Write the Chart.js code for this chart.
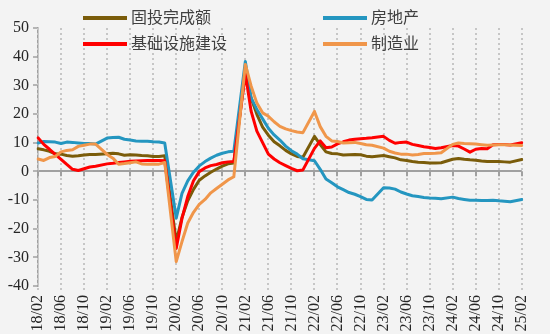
<!DOCTYPE html>
<html>
<head>
<meta charset="utf-8">
<script src="https://cdn.jsdelivr.net/npm/chart.js@4.4.1/dist/chart.umd.min.js"></script>
<style>
    body { margin: 0; background: #f3f3f3; }
    #wrap { position: relative; width: 550px; height: 334px; }
    .lg { position: absolute; font-family: "Noto Sans CJK SC", sans-serif; font-size: 16px; color: #404040; line-height: 20px; }
    .lg span { display: inline-block; width: 44px; height: 4px; vertical-align: middle; margin-right: 4px; position: relative; top: -1px; }
</style>
</head>
<body>
<div id="wrap">
    <canvas id="chart" width="550" height="334"></canvas>
    <div class="lg" style="left:83px; top:6px;"><span style="background:#7a5c0a"></span>固投完成额</div>
    <div class="lg" style="left:83px; top:32px;"><span style="background:#ff0000"></span>基础设施建设</div>
    <div class="lg" style="left:323px; top:6px;"><span style="background:#2496c0"></span>房地产</div>
    <div class="lg" style="left:323px; top:32px;"><span style="background:#f0964a"></span>制造业</div>
</div>
<script>
// months 18/02 .. 25/02 (January has no data, line skips over it)
const months = [];
for (let y = 18; y <= 25; y++) {
    for (let m = 1; m <= 12; m++) {
        if (y === 18 && m < 2) continue;
        if (y === 25 && m > 2) break;
        months.push(y + '/' + String(m).padStart(2, '0'));
    }
}

const yTicks = [50, 40, 30, 20, 10, 0, -10, -20, -30, -40];

// 固投完成额, cumulative yoy %
const fai = [
    7.9, 7.5, 7.0, 6.1, 6.0, 5.5, 5.3, 5.4, 5.7, 5.9, 5.9,
    null, 6.1, 6.3, 6.1, 5.6, 5.8, 5.7, 5.5, 5.4, 5.2, 5.2, 5.4,
    null, -24.5, -16.1, -10.3, -6.3, -3.1, -1.6, -0.3, 0.8, 1.8, 2.6, 2.9,
    null, 35.0, 25.6, 19.9, 15.4, 12.6, 10.3, 8.9, 7.3, 6.1, 5.2, 4.9,
    null, 12.2, 9.3, 6.8, 6.2, 6.1, 5.7, 5.8, 5.9, 5.8, 5.3, 5.1,
    null, 5.5, 5.1, 4.7, 4.0, 3.8, 3.4, 3.2, 3.1, 2.9, 2.9, 3.0,
    null, 4.2, 4.5, 4.2, 4.0, 3.9, 3.6, 3.4, 3.4, 3.4, 3.3, 3.2,
    null, 4.1
];

// 房地产
const realEstate = [
    9.9, 10.4, 10.3, 10.2, 9.7, 10.2, 10.1, 9.9, 9.7, 9.7, 9.5,
    null, 11.6, 11.8, 11.9, 11.2, 10.9, 10.6, 10.5, 10.5, 10.3, 10.2, 9.9,
    null, -16.3, -7.7, -3.3, -0.3, 1.9, 3.4, 4.6, 5.6, 6.3, 6.8, 7.0,
    null, 38.3, 25.6, 21.6, 18.3, 15.0, 12.7, 10.9, 8.8, 7.2, 6.0, 4.4,
    null, 3.7, 0.7, -2.7, -4.0, -5.4, -6.4, -7.4, -8.0, -8.8, -9.8, -10.0,
    null, -5.7, -5.8, -6.2, -7.2, -7.9, -8.5, -8.8, -9.1, -9.3, -9.4, -9.6,
    null, -9.0, -9.5, -9.8, -10.1, -10.1, -10.2, -10.2, -10.1, -10.3, -10.4, -10.6,
    null, -9.8
];

// 基础设施建设
const infra = [
    11.7, 9.4, 7.7, 5.9, 4.2, 2.4, 0.7, 0.3, 0.9, 1.5, 1.8,
    null, 2.6, 2.8, 3.1, 3.3, 3.5, 3.6, 3.7, 3.8, 3.8, 3.8, 3.7,
    null, -26.9, -16.4, -8.8, -3.3, -0.1, 1.2, 2.0, 2.4, 3.0, 3.3, 3.4,
    null, 34.0, 21.0, 14.0, 10.0, 6.0, 4.3, 3.0, 2.0, 1.0, 0.2, 0.5,
    null, 8.0, 10.6, 8.2, 8.5, 9.6, 10.3, 10.9, 11.2, 11.4, 11.5, 11.7,
    null, 12.2, 10.8, 9.8, 10.1, 10.2, 9.4, 9.0, 8.6, 8.3, 8.0, 8.2,
    null, 9.0, 8.8, 7.8, 6.7, 7.7, 8.0, 7.9, 9.3, 9.4, 9.4, 9.2,
    null, 10.0
];

// 制造业
const manufacturing = [
    4.3, 3.8, 4.8, 5.2, 6.8, 7.3, 7.5, 8.7, 9.1, 9.5, 9.5,
    null, 5.9, 4.6, 2.5, 2.7, 3.0, 3.3, 2.6, 2.5, 2.6, 2.5, 3.1,
    null, -31.5, -24.5, -18.0, -14.3, -11.5, -9.8, -7.5, -6.0, -4.5, -3.0, -1.9,
    null, 37.3, 29.8, 23.8, 20.4, 19.2, 17.3, 15.7, 14.8, 14.2, 13.7, 13.5,
    null, 20.9, 15.6, 12.2, 10.6, 10.4, 9.9, 10.0, 10.1, 9.7, 9.3, 9.1,
    null, 8.1, 7.0, 6.4, 6.0, 6.0, 5.7, 5.9, 6.2, 6.2, 6.3, 6.5,
    null, 9.4, 9.9, 9.7, 9.6, 9.5, 9.3, 9.1, 9.2, 9.3, 9.3, 9.2,
    null, 9.0
];

function line(label, data, color, order) {
    return {
        label: label,
        data: data,
        borderColor: color,
        backgroundColor: color,
        borderWidth: 3,
        pointRadius: 0,
        tension: 0,
        spanGaps: true,
        borderJoinStyle: 'round',
        borderCapStyle: 'round',
        order: order
    };
}

// dotted vertical lines every 4 months + small marks under the zero line
const dottedGrid = {
    id: 'dottedGrid',
    beforeDatasetsDraw: function(chart) {
        const ctx = chart.ctx;
        const area = chart.chartArea;
        const x = chart.scales.x;
        const y0 = chart.scales.y.getPixelForValue(0);
        ctx.save();
        for (let i = 0; i < months.length; i += 4) {
            const px = Math.round(x.getPixelForValue(i));
            ctx.lineWidth = 2;
            ctx.strokeStyle = '#c6c6c6';
            ctx.setLineDash([2, 3]);
            ctx.beginPath();
            ctx.moveTo(px, area.top);
            ctx.lineTo(px, area.bottom + 4);
            ctx.stroke();
            ctx.strokeStyle = '#a0a0a0';
            ctx.setLineDash([]);
            ctx.beginPath();
            ctx.moveTo(px, y0);
            ctx.lineTo(px, y0 + 5);
            ctx.stroke();
        }
        ctx.restore();
    }
};

const tickFont = { family: '"Liberation Serif", serif', size: 16 };

new Chart(document.getElementById('chart').getContext('2d'), {
    type: 'line',
    data: {
        labels: months,
        datasets: [
            line('固投完成额', fai, '#7a5c0a', 3),
            line('房地产', realEstate, '#2496c0', 2),
            line('基础设施建设', infra, '#ff0000', 1),
            line('制造业', manufacturing, '#f0964a', 0)
        ]
    },
    plugins: [dottedGrid],
    options: {
        responsive: false,
        animation: false,
        layout: { padding: { top: 28, right: 13, left: 0, bottom: 0 } },
        plugins: { legend: { display: false }, tooltip: { enabled: false } },
        scales: {
            x: {
                offset: false,
                afterFit: function(scale) { scale.height = 48; },
                border: { display: false },
                grid: { color: 'rgba(0,0,0,0)', drawTicks: false },
                ticks: {
                    autoSkip: false,
                    minRotation: 90,
                    maxRotation: 90,
                    padding: 9,
                    color: '#262626',
                    font: tickFont,
                    callback: function(v, i) { return i % 4 === 0 ? months[i] : ''; }
                }
            },
            y: {
                min: -40,
                max: 50,
                afterFit: function(scale) { scale.width = 38; },
                afterBuildTicks: function(scale) { scale.ticks = yTicks.map(v => ({ value: v })); },
                border: { display: true, color: '#a0a0a0', width: 1.5 },
                grid: {
                    color: ctx => ctx.tick && ctx.tick.value === 0 ? '#a0a0a0' : 'rgba(0,0,0,0)',
                    lineWidth: 2,
                    tickColor: '#a0a0a0',
                    tickWidth: 1.5,
                    tickLength: 5
                },
                ticks: { padding: 4, color: '#262626', font: tickFont }
            }
        }
    }
});
</script>
</body>
</html>
